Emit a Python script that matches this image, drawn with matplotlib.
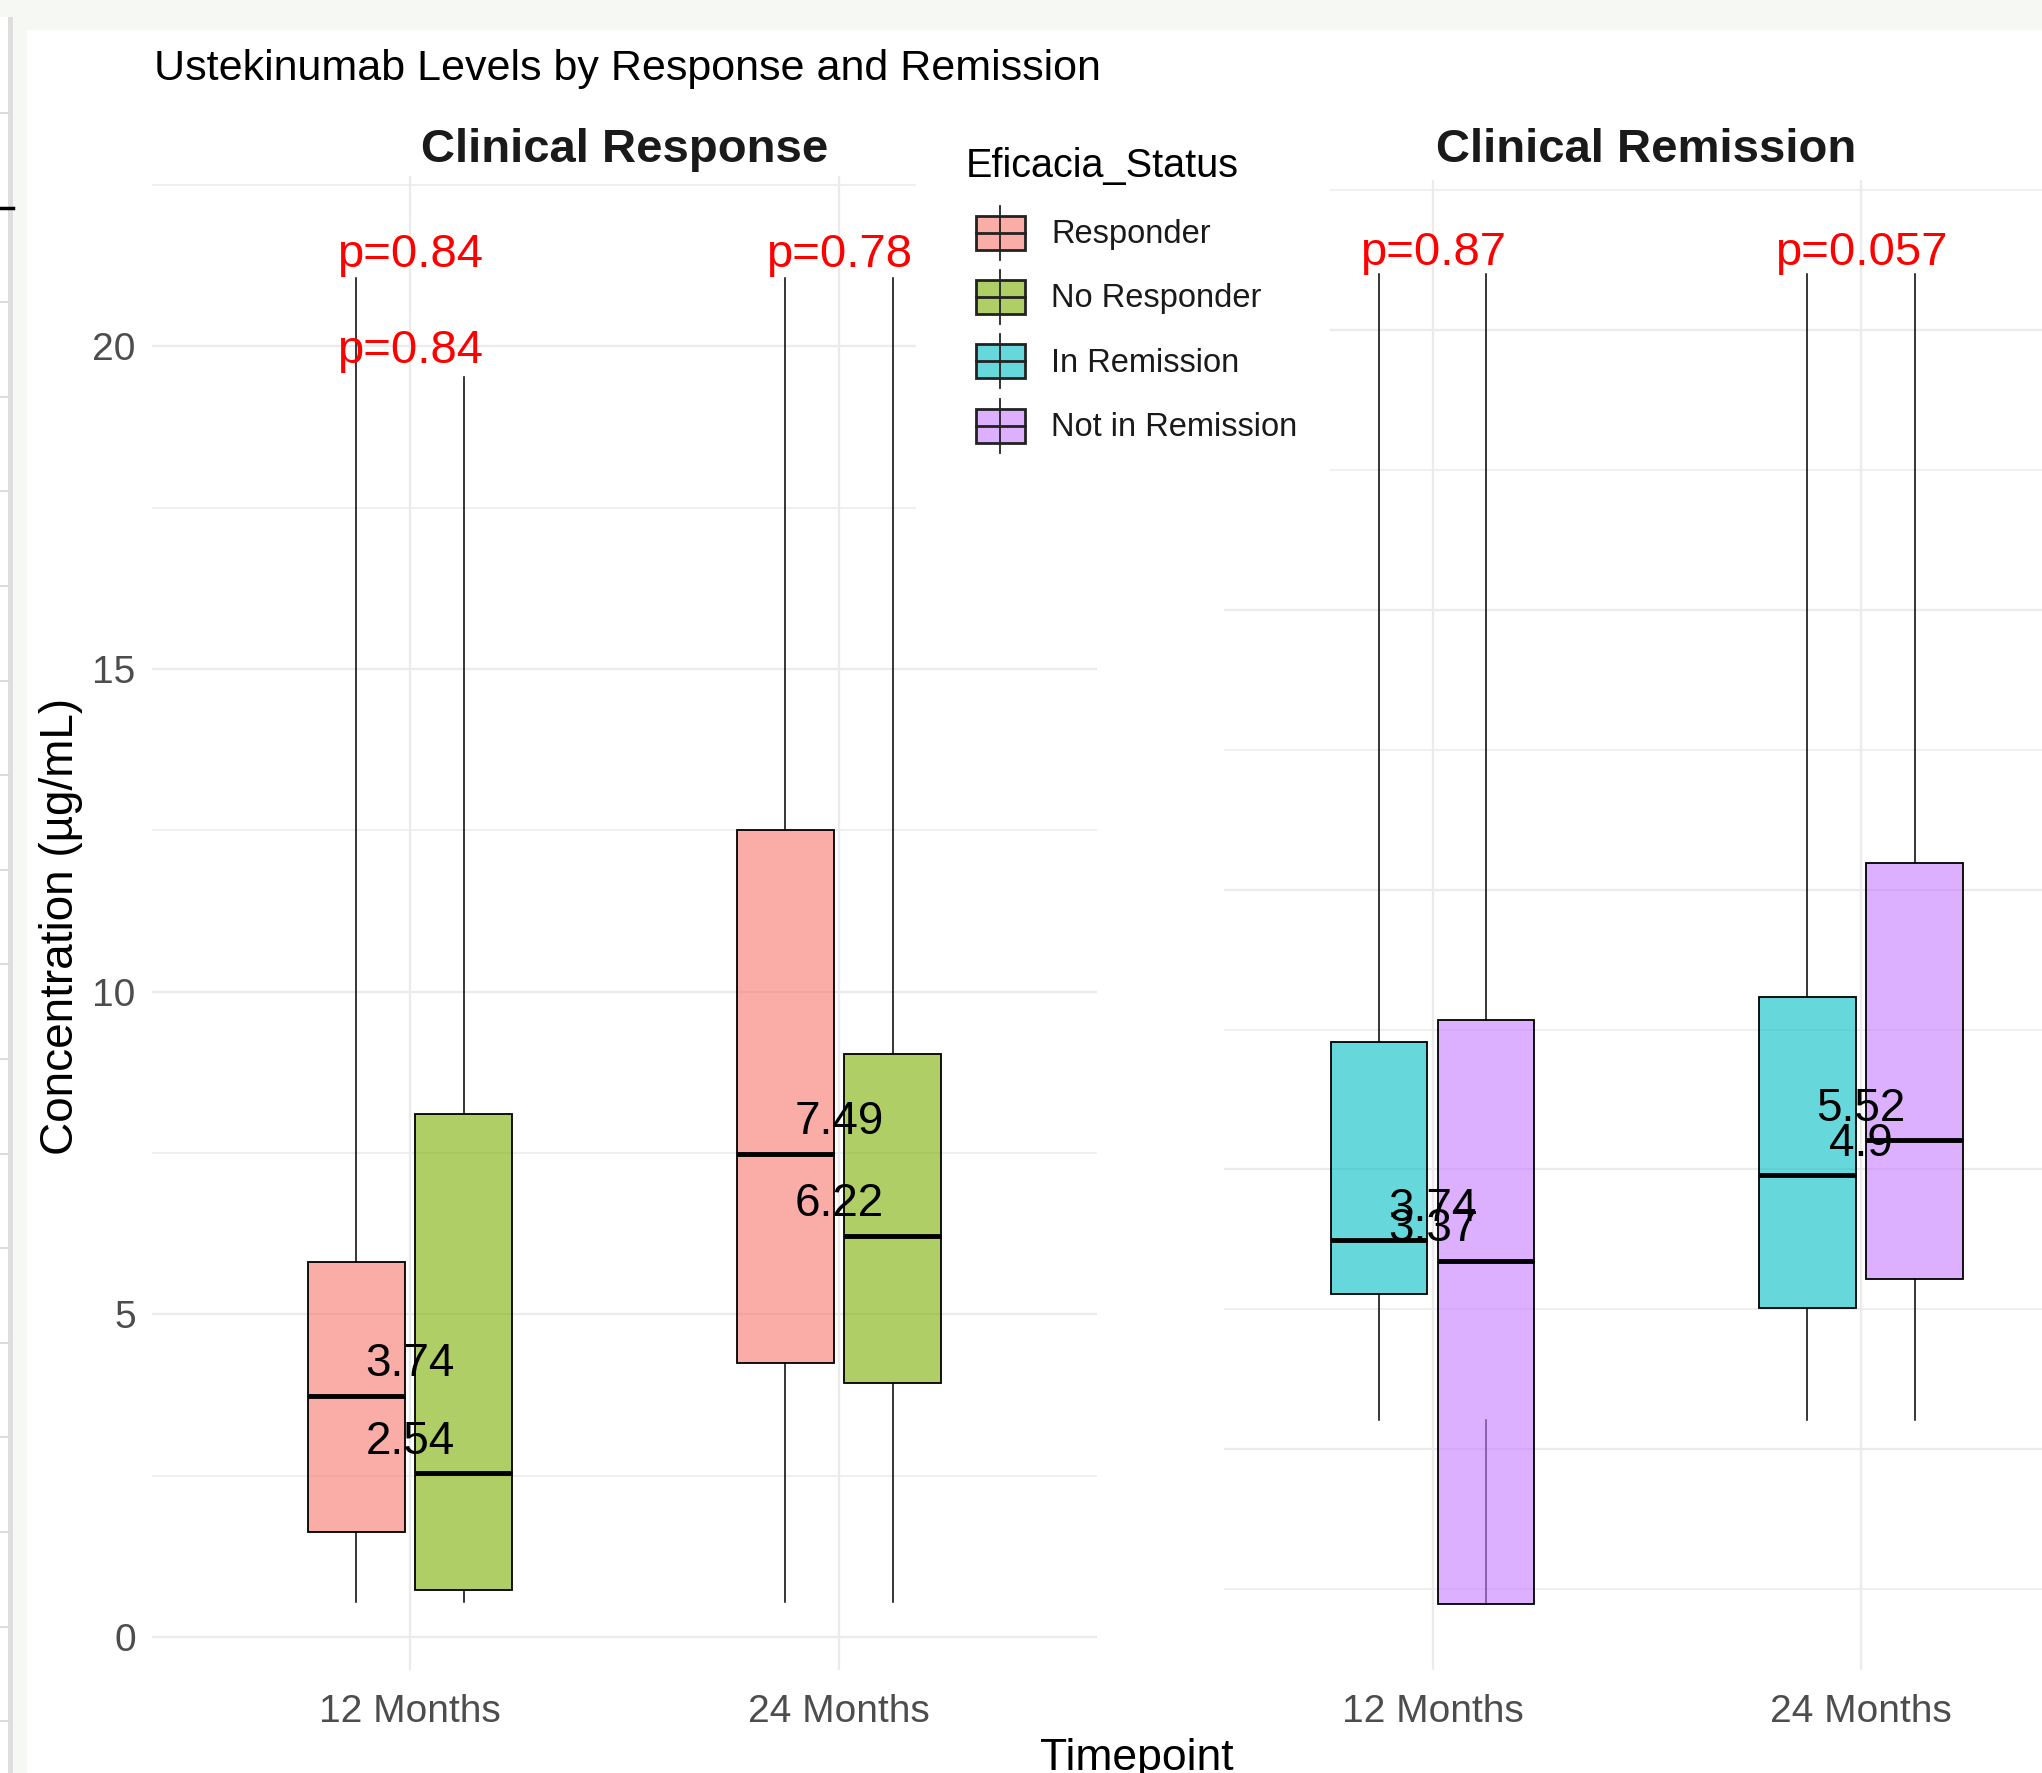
import matplotlib
matplotlib.use("Agg")
import matplotlib.pyplot as plt
from matplotlib.colors import to_rgba
from matplotlib.patches import Rectangle

plt.rcParams["font.family"] = ["Liberation Sans", "DejaVu Sans"]

# ---- data ----
timepoints = ["12 Months", "24 Months"]
response_groups = ["Responder", "No Responder"]
remission_groups = ["In Remission", "Not in Remission"]
group_colors = {"Responder": "#F8766D", "No Responder": "#7CAE00",
                "In Remission": "#00BFC4", "Not in Remission": "#C77CFF"}

# values per group at [12 Months, 24 Months]
resp_median = {"Responder": [3.74, 7.49], "No Responder": [2.54, 6.22]}
resp_q1 = {"Responder": [1.63, 4.24], "No Responder": [0.73, 3.94]}
resp_q3 = {"Responder": [5.81, 12.51], "No Responder": [8.11, 9.04]}
resp_low = {"Responder": [0.54, 0.54], "No Responder": [0.54, 0.54]}
resp_high = {"Responder": [21.05, 21.05], "No Responder": [19.52, 21.05]}

rem_median = {"In Remission": [3.74, 4.9], "Not in Remission": [3.37, 5.52]}
rem_q1 = {"In Remission": [2.78, 2.53], "Not in Remission": [-2.76, 3.04]}
rem_q3 = {"In Remission": [7.28, 8.09], "Not in Remission": [7.67, 10.47]}
rem_low = {"In Remission": [0.52, 0.52], "Not in Remission": [0.52, 0.52]}
rem_high = {"In Remission": [21.0, 21.0], "Not in Remission": [21.0, 21.0]}

resp_pvals = ["p=0.84", "p=0.78"]
resp_pval_y = [21.42, 21.42]
resp_extra_pval = "p=0.84"   # duplicated label at 12 Months
resp_extra_pval_y = 19.92
rem_pvals = ["p=0.87", "p=0.057"]
rem_pval_y = [21.38, 21.38]

W, H = 2042, 1773
fig = plt.figure(figsize=(W / 100, H / 100), dpi=100, facecolor="white")


def px_rect(x0, y0, x1, y1):
    return [x0 / W, 1 - y1 / H, (x1 - x0) / W, (y1 - y0) / H]


# ---- screenshot background ----
bg = fig.add_axes([0, 0, 1, 1], zorder=0)
bg.set_xlim(0, W)
bg.set_ylim(H, 0)
bg.axis("off")
bg.add_patch(Rectangle((0, 0), W, 30, color="#F6F8F3", lw=0))
bg.add_patch(Rectangle((13, 0), 14, H, color="#F6F8F3", lw=0))
bg.add_patch(Rectangle((8, 17), 5, H, color="#DEDEDE", lw=0))
bg.add_patch(Rectangle((0, 17), 8, H, color="white", lw=0))
y = 113
while y < H:
    bg.plot([0, 8], [y, y], color="#D6D6D6", lw=1.2)
    y += 94.6
bg.plot([0, 13], [208, 208], color="black", lw=2.5)


def draw_panel(ax, groups, med, q1, q3, lo, hi):
    for gi, g in enumerate(groups):
        off = -0.125 if gi == 0 else 0.125
        stats = []
        for t in range(len(timepoints)):
            stats.append(dict(med=med[g][t], q1=q1[g][t], q3=q3[g][t],
                              whislo=lo[g][t], whishi=hi[g][t]))
        ax.bxp(stats, positions=[1 + off, 2 + off], widths=0.225,
               patch_artist=True, showcaps=False, showfliers=False,
               manage_ticks=False,
               boxprops=dict(facecolor=to_rgba(group_colors[g], 0.6),
                             edgecolor="black", linewidth=1.3, zorder=3),
               whiskerprops=dict(color="black", linewidth=1.1, zorder=2.5),
               medianprops=dict(color="black", linewidth=3.5, zorder=3.2))
        # median labels at timepoint centre
        for t in range(len(timepoints)):
            ax.annotate(f"{med[g][t]:g}", (t + 1, med[g][t]),
                        xytext=(0, 22.5), textcoords="offset points",
                        ha="center", va="center", fontsize=33, color="black",
                        zorder=4, annotation_clip=False)


def style_panel(ax, show_y):
    ax.set_facecolor("none")
    for s in ax.spines.values():
        s.set_visible(False)
    ax.set_xticks([1, 2])
    ax.set_xticklabels(timepoints)
    ax.set_yticks([0, 5, 10, 15, 20])
    ax.set_yticks([-2.5, 2.5, 7.5, 12.5, 17.5, 22.5], minor=True)
    ax.grid(which="major", color="#EBEBEB", lw=1.6, zorder=0)
    ax.grid(which="minor", axis="y", color="#EBEBEB", lw=1.1, zorder=0)
    ax.set_axisbelow(True)
    ax.tick_params(which="both", length=0)
    ax.tick_params(axis="x", labelsize=28, labelcolor="#4D4D4D", pad=17.5)
    ax.tick_params(axis="y", labelsize=28, labelcolor="#4D4D4D", pad=12)
    if not show_y:
        ax.set_yticklabels([])


# ---- left panel: clinical response ----
axL = fig.add_axes(px_rect(152.4, 175.8, 1096.5, 1669.6), zorder=1)
style_panel(axL, True)
draw_panel(axL, response_groups, resp_median, resp_q1, resp_q3, resp_low, resp_high)
for t, (lab, yy) in enumerate(zip(resp_pvals, resp_pval_y)):
    axL.text(t + 1, yy, lab, color="red", fontsize=34, ha="center", va="center", zorder=4)
axL.text(1, resp_extra_pval_y, resp_extra_pval, color="red", fontsize=34,
         ha="center", va="center", zorder=4)
axL.set_xlim(0.4, 2.6)
axL.set_ylim(-0.505, 22.64)

# ---- right panel: clinical remission ----
axR = fig.add_axes(px_rect(1224.2, 179.7, 2042, 1669.6), zorder=1)
style_panel(axR, False)
draw_panel(axR, remission_groups, rem_median, rem_q1, rem_q3, rem_low, rem_high)
for t, (lab, yy) in enumerate(zip(rem_pvals, rem_pval_y)):
    axR.text(t + 1, yy, lab, color="red", fontsize=34, ha="center", va="center", zorder=4)
axR.set_xlim(0.5137, 2.4225)
axR.set_ylim(-3.94, 22.69)

# ---- texts ----
fig.text(153.7 / W, 1 - 69 / H, "Ustekinumab Levels by Response and Remission",
         fontsize=31, ha="left", va="center", color="black")
fig.text(625 / W, 1 - 150 / H, "Clinical Response", fontsize=34, fontweight="bold",
         ha="center", va="center", color="#1A1A1A")
fig.text(1646 / W, 1 - 150 / H, "Clinical Remission", fontsize=34, fontweight="bold",
         ha="center", va="center", color="#1A1A1A")
fig.text(61 / W, 1 - 926 / H, "Concentration (µg/mL)", fontsize=33, rotation=90,
         ha="center", va="center", color="black")
fig.text(1137 / W, 1 - 1738 / H, "Timepoint", fontsize=32, ha="center", va="top",
         color="black")

# ---- legend (white block over both panels) ----
ov = fig.add_axes([0, 0, 1, 1], zorder=3)
ov.set_xlim(0, W)
ov.set_ylim(H, 0)
ov.axis("off")
ov.patch.set_alpha(0)
ov.add_patch(Rectangle((915.5, 124), 414, 436, color="white", lw=0))
ov.text(966, 166, "Eficacia_Status", fontsize=28.5, ha="left", va="center", color="black")
key_y = [233, 297, 361, 426]
for g, ky in zip(response_groups + remission_groups, key_y):
    ov.plot([1000, 1000], [ky - 27, ky + 27], color="#222222", lw=1.3)
    ov.add_patch(Rectangle((975.5, ky - 17), 49, 34, facecolor=to_rgba(group_colors[g], 0.6),
                           edgecolor="#222222", lw=2.0))
    ov.plot([975.5, 1024.5], [ky, ky], color="#222222", lw=2.0)
    ov.text(1051, ky + 2, g, fontsize=23.5, ha="left", va="center", color="#1A1A1A")

fig.savefig("out.png", dpi=100, facecolor=fig.get_facecolor())
